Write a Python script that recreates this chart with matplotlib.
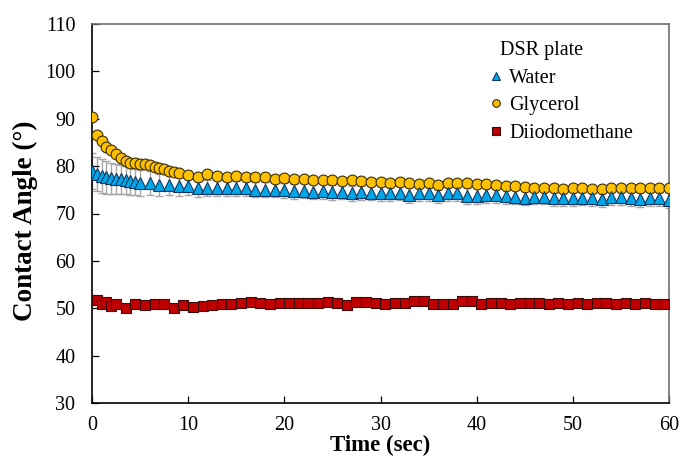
import numpy as np
import matplotlib
matplotlib.use("Agg")
import matplotlib.pyplot as plt

plt.rcParams['font.family'] = ['Liberation Serif', 'DejaVu Serif']

# ---------------- data ----------------
glycerol_t = [0, 0.5, 1, 1.5, 2, 2.5, 3, 3.5, 4, 4.5, 5, 5.5, 6, 6.5, 7, 7.5, 8, 8.5, 9,
              10, 11, 12, 13, 14, 15, 16, 17, 18, 19, 20, 21, 22, 23, 24, 25, 26, 27, 28, 29,
              30, 31, 32, 33, 34, 35, 36, 37, 38, 39, 40, 41, 42, 43, 44, 45, 46, 47, 48, 49,
              50, 51, 52, 53, 54, 55, 56, 57, 58, 59, 60]
glycerol_y = [90.4, 86.6, 85.2, 84.1, 83.3, 82.5, 81.7, 81.1, 80.7, 80.6, 80.4, 80.4, 80.2, 79.9,
              79.5, 79.3, 79.0, 78.8, 78.5,
              78.2, 77.8, 78.3, 78.0, 77.6, 77.9, 77.6, 77.6, 77.6, 77.3, 77.4, 77.2, 77.3, 77.0,
              77.1, 77.0, 76.9, 77.0, 76.8, 76.6, 76.7, 76.5, 76.7, 76.4, 76.2, 76.5, 76.0, 76.5,
              76.5, 76.5, 76.2, 76.2, 76.0, 75.8, 75.8, 75.5, 75.3, 75.3, 75.3, 75.1, 75.3, 75.3,
              75.1, 75.1, 75.3, 75.3, 75.3, 75.3, 75.3, 75.3, 75.3]

water_t = [0, 0.5, 1, 1.5, 2, 2.5, 3, 3.5, 4, 4.5, 5,
           6, 7, 8, 9, 10, 11, 12, 13, 14, 15, 16, 17, 18, 19, 20, 21, 22, 23, 24, 25, 26, 27,
           28, 29, 30, 31, 32, 33, 34, 35, 36, 37, 38, 39, 40, 41, 42, 43, 44, 45, 46, 47, 48,
           49, 50, 51, 52, 53, 54, 55, 56, 57, 58, 59, 60]
water_y = [79.0, 78.3, 77.9, 77.6, 77.4, 77.3, 77.2, 77.1, 76.9, 76.6, 76.4,
           76.4, 76.0, 76.0, 75.7, 75.9, 75.3, 75.3, 75.3, 75.3, 75.3, 75.3, 75.0, 75.0, 75.0,
           74.9, 74.7, 74.8, 74.6, 74.7, 74.5, 74.6, 74.3, 74.5, 74.4, 74.3, 74.3, 74.4, 73.9,
           74.3, 74.3, 73.9, 74.3, 74.3, 73.7, 73.7, 73.9, 73.9, 73.7, 73.5, 73.3, 73.5, 73.5,
           73.2, 73.2, 73.2, 73.3, 73.2, 73.0, 73.4, 73.4, 73.2, 73.0, 73.2, 73.2, 72.85]
water_err = [3.8, 3.6, 3.5, 3.4, 3.3, 3.2, 3.1, 3.0, 2.9, 2.8, 2.7,
             2.5, 2.3, 2.2, 2.0, 1.9, 1.8, 1.7, 1.7, 1.6, 1.6, 1.6, 1.6, 1.6, 1.6,
             1.6, 1.6, 1.6, 1.6, 1.6, 1.6, 1.6, 1.6, 1.6, 1.6, 1.6, 1.6, 1.6, 1.6,
             1.6, 1.6, 1.6, 1.6, 1.6, 1.6, 1.6, 1.6, 1.6, 1.6, 1.6, 1.6, 1.6, 1.6,
             1.6, 1.6, 1.6, 1.6, 1.6, 1.6, 1.6, 1.6, 1.6, 1.6, 1.6, 1.6, 1.6]

diiodo_t = [0, 0.5, 1, 1.5, 2, 2.5, 3.5, 4.5, 5.5, 6.5, 7.5, 8.5, 9.5, 10.5, 11.5, 12.5, 13.5,
            14.5, 15.5, 16.5, 17.5, 18.5, 19.5, 20.5, 21.5, 22.5, 23.5, 24.5, 25.5, 26.5, 27.5,
            28.5, 29.5, 30.5, 31.5, 32.5, 33.5, 34.5, 35.5, 36.5, 37.5, 38.5, 39.5, 40.5, 41.5,
            42.5, 43.5, 44.5, 45.5, 46.5, 47.5, 48.5, 49.5, 50.5, 51.5, 52.5, 53.5, 54.5, 55.5,
            56.5, 57.5, 58.5, 59.5]
diiodo_y = [51.8, 51.7, 50.8, 51.3, 50.4, 50.8, 50.15, 50.8, 50.6, 50.8, 50.8, 50.15, 50.6,
            50.3, 50.4, 50.6, 50.85, 51.0, 51.1, 51.3, 51.1, 50.85, 51.1, 51.1, 51.1, 51.1,
            51.1, 51.3, 51.1, 50.6, 51.3, 51.3,
            51.2, 50.85, 51.2, 51.2, 51.5, 51.5, 50.85, 50.85, 50.85, 51.5, 51.5, 50.85, 51.2,
            51.2, 50.85, 51.2, 51.2, 51.2, 50.85, 51.2, 50.85, 51.2, 50.85, 51.2, 51.2, 50.85,
            51.2, 50.85, 51.2, 50.85, 50.85]

x_ticks = [0, 10, 20, 30, 40, 50, 60]
y_ticks = [30, 40, 50, 60, 70, 80, 90, 100, 110]

# ---------------- figure ----------------
fig = plt.figure(figsize=(6.81, 4.57), dpi=100)
ax = fig.add_axes([92 / 681, 1 - 403 / 457, 577 / 681, 379 / 457])

ms = 7.8
ax.errorbar(water_t, water_y, yerr=water_err, fmt='none', ecolor='#A6A6A6',
            elinewidth=1.0, capsize=2.6, capthick=1.0, zorder=1)
ax.plot(diiodo_t, diiodo_y, linestyle='none', marker='s', ms=ms, mfc='#C00000',
        mec='#3B0A0A', mew=0.8, label='Diiodomethane', zorder=3)
ax.plot(glycerol_t, glycerol_y, linestyle='none', marker='o', ms=ms, mfc='#FFC000',
        mec='#3A2E05', mew=0.8, label='Glycerol', zorder=3)
ax.plot(water_t, water_y, linestyle='none', marker='^', ms=ms + 0.5, mfc='#00A6E8',
        mec='#17365D', mew=0.8, label='Water', zorder=4)

ax.set_xlim(0, 60)
ax.set_ylim(30, 110)
ax.set_xticks(x_ticks)
ax.set_yticks(y_ticks)
ax.tick_params(axis='x', direction='in', length=5, width=0.9, pad=9, labelsize=14.5)
ax.tick_params(axis='y', direction='in', length=5, width=0.9, pad=12, labelsize=14.5)

for s in ['left', 'bottom']:
    ax.spines[s].set_color('black')
    ax.spines[s].set_linewidth(1.2)
for s in ['top', 'right']:
    ax.spines[s].set_color('#6E6E6E')
    ax.spines[s].set_linewidth(1.2)

ax.set_xlabel('Time (sec)', fontsize=16.5, fontweight='bold', labelpad=0)
ax.set_ylabel('Contact Angle (°)', fontsize=19.5, fontweight='bold')
ax.yaxis.set_label_coords(-0.093, 0.48)

handles, labels = ax.get_legend_handles_labels()
order = [2, 1, 0]
leg = ax.legend([handles[i] for i in order], [labels[i] for i in order],
                title='  DSR plate', loc='upper left', bbox_to_anchor=(0.69, 0.955),
                frameon=False, fontsize=14.5, title_fontsize=14.5, markerscale=0.7,
                handlelength=0.6, handletextpad=0.35, labelspacing=0.42, borderpad=0,
                borderaxespad=0)
leg._legend_box.align = 'left'

fig.savefig('out.png', dpi=100)
